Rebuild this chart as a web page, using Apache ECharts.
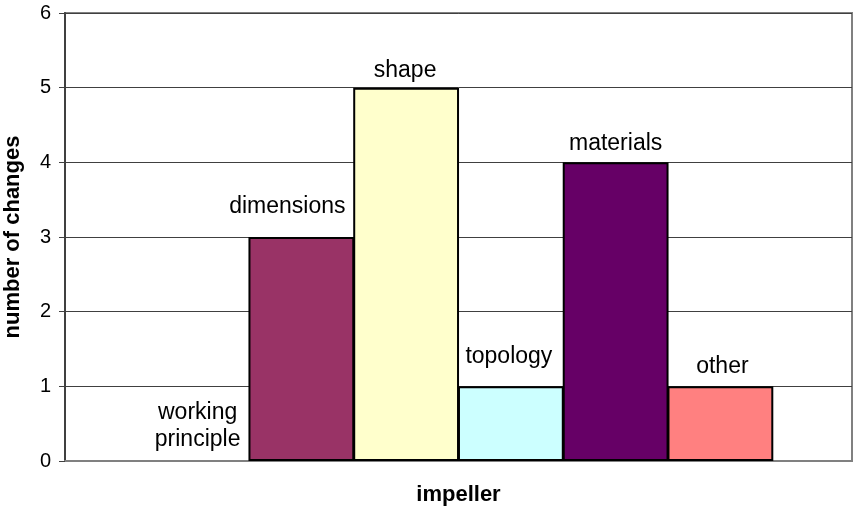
<!DOCTYPE html>
<html>
<head>
<meta charset="utf-8">
<script src="https://cdn.jsdelivr.net/npm/echarts@6/dist/echarts.min.js"></script>
<style>
html,body{margin:0;padding:0;background:#fff;}
#chart{width:854px;height:514px;}
</style>
</head>
<body>
<div id="chart"></div>
<script>
// ---- data ----
var categories = ['impeller'];
var seriesNames = ['working\nprinciple', 'dimensions', 'shape', 'topology', 'materials', 'other'];
var seriesValues = [0, 3, 5, 1, 4, 1];
var yTicks = [0, 1, 2, 3, 4, 5, 6];

// ---- styling ----
var barColors = ['#ffffff', '#993366', '#ffffcc', '#ccffff', '#660066', '#ff8080'];
var labelOffsets = [[1, 0], [-14, 0], [-1, 0], [-2, 0], [0, 0], [2, 0]];
var labelDistances = [8, 17, 4, 16, 5, 6];

var series = seriesNames.map(function (name, i) {
  return {
    name: name,
    type: 'bar',
    barGap: '-1%',
    barCategoryGap: '20%',
    data: [seriesValues[i]],
    itemStyle: {
      color: barColors[i],
      borderColor: '#000',
      borderWidth: i === 0 ? 0 : 2
    },
    label: {
      show: true,
      position: 'top',
      distance: labelDistances[i],
      offset: labelOffsets[i],
      formatter: name,
      fontFamily: 'Liberation Sans, Arial, sans-serif',
      fontSize: 23,
      lineHeight: 27,
      color: '#000',
      align: 'center'
    },
    emphasis: { disabled: true },
    animation: false
  };
});

var chart = echarts.init(document.getElementById('chart'), null, { renderer: 'canvas' });
chart.setOption({
  animation: false,
  backgroundColor: '#ffffff',
  grid: {
    left: 65, right: 2, top: 13, bottom: 53,
    containLabel: false,
    outerBoundsMode: 'none',
    show: true, borderColor: '#808080', borderWidth: 2, backgroundColor: '#ffffff'
  },
  xAxis: {
    type: 'category',
    data: categories,
    name: 'impeller',
    nameLocation: 'middle',
    nameGap: 23,
    nameTextStyle: {
      fontFamily: 'Liberation Sans, Arial, sans-serif',
      fontSize: 22, fontWeight: 'bold', color: '#000'
    },
    axisLine: { show: true, lineStyle: { color: '#808080', width: 2 } },
    axisTick: { show: false },
    axisLabel: { show: false },
    splitLine: { show: false }
  },
  yAxis: {
    type: 'value',
    min: yTicks[0],
    max: yTicks[yTicks.length - 1],
    interval: 1,
    name: 'number of changes',
    nameLocation: 'middle',
    nameGap: 41,
    nameRotate: 90,
    nameTextStyle: {
      fontFamily: 'Liberation Sans, Arial, sans-serif',
      fontSize: 22, fontWeight: 'bold', color: '#000'
    },
    axisLine: { show: true, lineStyle: { color: '#404040', width: 2 } },
    axisTick: { show: true, length: 6, lineStyle: { color: '#404040', width: 1 } },
    axisLabel: {
      margin: 14,
      fontFamily: 'Liberation Sans, Arial, sans-serif',
      fontSize: 20,
      color: '#000'
    },
    splitLine: { show: true, lineStyle: { color: '#404040', width: 1 } }
  },
  series: series
});
</script>
</body>
</html>
